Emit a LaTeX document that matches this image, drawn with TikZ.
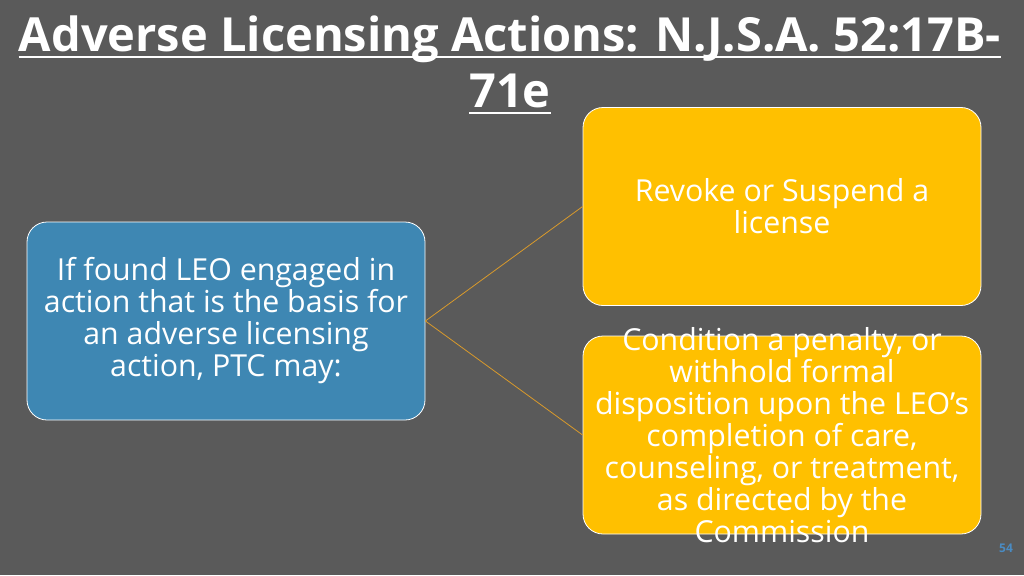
\documentclass[tikz,border=0pt]{standalone}
\usepackage{fontspec}
\setmainfont{Open Sans}
\usetikzlibrary{calc}
\definecolor{slidegray}{HTML}{5A5A5A}
\definecolor{leoblue}{HTML}{3E87B3}
\definecolor{ptcgold}{HTML}{FFC000}
\definecolor{linkorange}{HTML}{D99A2B}
\definecolor{pageblue}{HTML}{4A8BC2}
\tikzset{
  actionbox/.style={draw=white, line width=0.8pt, rounded corners=20pt,
    minimum width=398pt, minimum height=198pt, inner sep=0pt},
  boxtext/.style={text=white, align=center, inner sep=0pt,
    font=\fontsize{30.3}{32}\selectfont},
  titleline/.style={text=white, anchor=base, inner sep=0pt,
    font=\fontsize{47}{56}\selectfont\bfseries},
  link/.style={draw=linkorange, line width=0.8pt}
}

\begin{document}
\begin{tikzpicture}[x=1pt, y=-1pt]
		%%%%% START %%%%%
		\fill[slidegray] (0, 0) rectangle (1024, 575);
		\useasboundingbox (0, 0) rectangle (1024, 575);
		
		\node[titleline] (title1) at (510, 52) {Adverse Licensing Actions: N.J.S.A. 52:17B-};
		\node[titleline] (title2) at (510, 108) {71e};
		\draw[white, line width=2pt] ([yshift=-5pt]title1.base west) -- ([yshift=-5pt]title1.base east);
		\draw[white, line width=2pt] ([yshift=-5pt]title2.base west) -- ([yshift=-5pt]title2.base east);
		
		\node[actionbox, fill=leoblue] (leo) at (226, 321) {};
		\node[actionbox, fill=ptcgold] (suspend) at (782, 206.5) {};
		\node[actionbox, fill=ptcgold] (condition) at (782, 435) {};
		
		\draw[link] (leo.east) -- (suspend.west);
		\draw[link] (leo.east) -- (condition.west);
		
		\node[boxtext] (leotext) at (leo.center) {If found LEO engaged in\\action that is the basis for\\an adverse licensing\\action, PTC may:};
		\node[boxtext] (suspendtext) at (suspend.center) {Revoke or Suspend a\\license};
		\node[boxtext] (conditiontext) at (condition.center) {Condition a penalty, or\\withhold formal\\disposition upon the LEO’s\\completion of care,\\counseling, or treatment,\\as directed by the\\Commission};
		
		\node[text=pageblue, font=\fontsize{12}{14}\selectfont\bfseries] (page) at (1006, 548) {54};
		%%%%% END %%%%%
	\end{tikzpicture}
\end{document}
